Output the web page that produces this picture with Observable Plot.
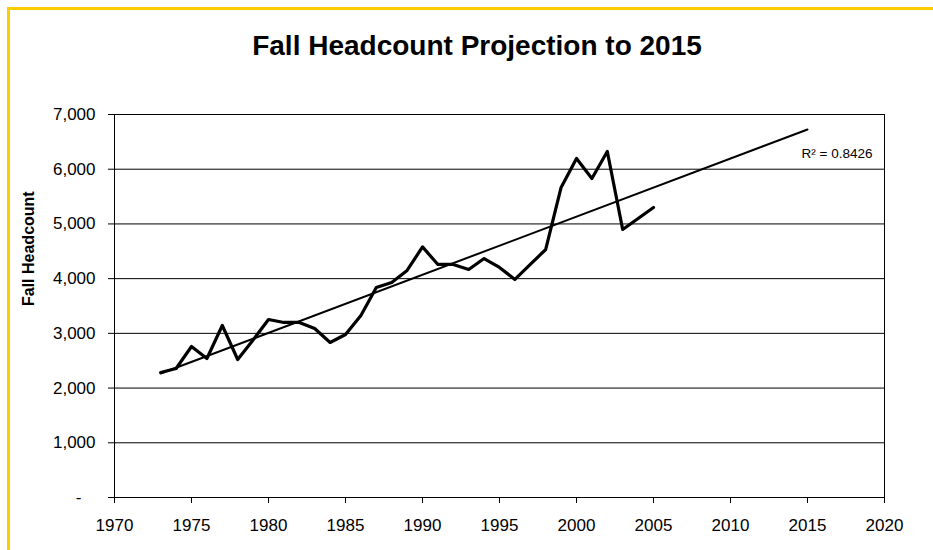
<!DOCTYPE html>
<html>
<head>
<meta charset="utf-8">
<script src="https://cdn.jsdelivr.net/npm/d3@7"></script>
<script src="https://cdn.jsdelivr.net/npm/@observablehq/plot@0.6"></script>
<style>
  html, body { margin: 0; padding: 0; background: #fff; overflow: hidden; }
  #wrap { position: relative; width: 933px; height: 550px; }
  #border { position: absolute; left: 7px; top: 7px; width: 2000px; height: 2000px;
            border-top: 3px solid #FFCC00; border-left: 3px solid #FFCC00; }
  #chart { position: absolute; left: 0; top: 0; }
</style>
</head>
<body>
<div id="wrap"><div id="border"></div><div id="chart"></div></div>
<script>
const titleText = "Fall Headcount Projection to 2015";
const yLabel = "Fall Headcount";
const r2Label = "R\u00B2 = 0.8426";

const years = [1973, 1974, 1975, 1976, 1977, 1978, 1979, 1980, 1981, 1982, 1983,
  1984, 1985, 1986, 1987, 1988, 1989, 1990, 1991, 1992, 1993, 1994, 1995, 1996,
  1997, 1998, 1999, 2000, 2001, 2002, 2003, 2004, 2005];
const headcount = [2285, 2358, 2760, 2541, 3144, 2522, 2880, 3253, 3199, 3199, 3089,
  2833, 2979, 3327, 3838, 3930, 4149, 4580, 4259, 4259, 4167, 4368, 4204, 3985,
  4259, 4533, 5666, 6196, 5831, 6324, 4899, 5100, 5301];

const trendYears = [1973, 2015];
const trendValues = [2266, 6726];

const xTicks = [1970, 1975, 1980, 1985, 1990, 1995, 2000, 2005, 2010, 2015, 2020];
const yTicks = [0, 1000, 2000, 3000, 4000, 5000, 6000, 7000];

const data = years.map((y, i) => ({year: y, value: headcount[i]}));
const trend = trendYears.map((y, i) => ({year: y, value: trendValues[i]}));

const font = "Arial, 'Liberation Sans', sans-serif";
const fmt = d3.format(",");

const chart = Plot.plot({
  width: 933,
  height: 550,
  marginLeft: 114,
  marginRight: 49,
  marginTop: 114,
  marginBottom: 53,
  style: {fontFamily: font, fontSize: "17px", background: "transparent", color: "#000"},
  x: {domain: [1970, 2020]},
  y: {domain: [0, 7000]},
  marks: [
    Plot.ruleY(yTicks, {stroke: "#000", strokeWidth: 1}),
    Plot.frame({stroke: "#000", strokeWidth: 1}),
    Plot.axisX({ticks: xTicks, tickFormat: d => String(d), tickSize: 6, tickPadding: 15,
      label: null, fontSize: 17, stroke: "#000"}),
    Plot.axisY({ticks: yTicks, tickFormat: d => d === 0 ? "-\u00A0\u00A0\u00A0" : fmt(d),
      tickSize: 6, tickPadding: 13, label: null, fontSize: 17, stroke: "#000"}),
    Plot.line(trend, {x: "year", y: "value", stroke: "#000", strokeWidth: 2}),
    Plot.line(data, {x: "year", y: "value", stroke: "#000", strokeWidth: 3.2,
      strokeLinejoin: "round"}),
    Plot.text([r2Label], {frameAnchor: "top-right", textAnchor: "end", lineAnchor: "bottom",
      dx: -12, dy: 43, fontSize: 13.5, fill: "#000"}),
    Plot.text([titleText], {frameAnchor: "top", lineAnchor: "bottom", dx: -22.5, dy: -60,
      fontSize: 28, fontWeight: "bold", fill: "#000"}),
    Plot.text([yLabel], {frameAnchor: "left", rotate: -90, dx: -86, fontSize: 16,
      fontWeight: "bold", fill: "#000"})
  ]
});
document.getElementById("chart").appendChild(chart);
</script>
</body>
</html>
